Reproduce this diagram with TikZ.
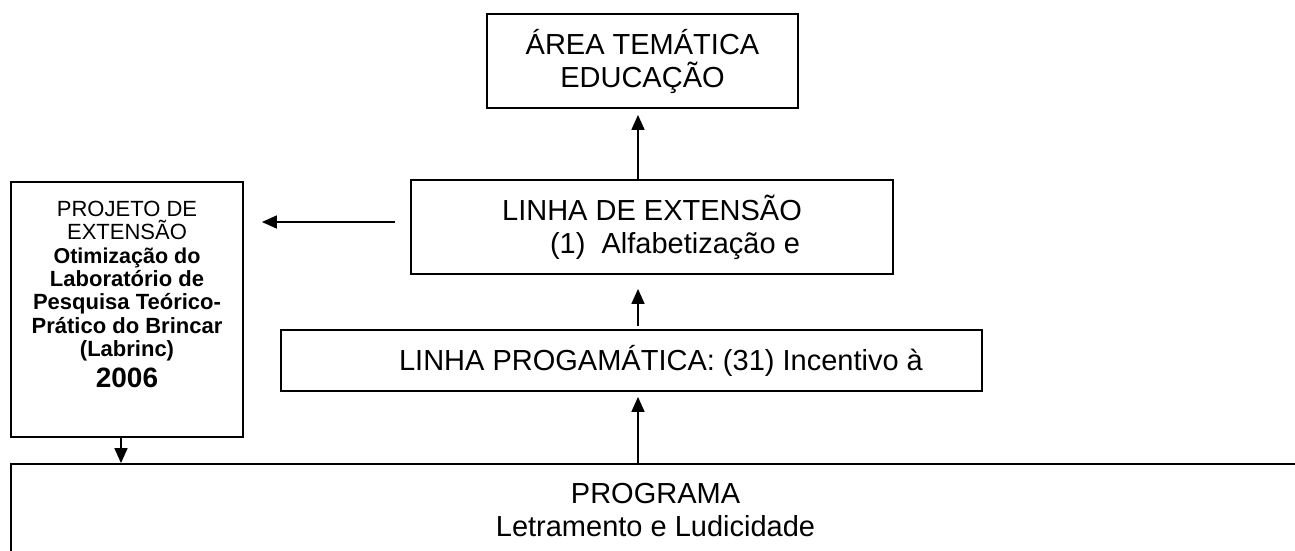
\documentclass[tikz,border=0pt]{standalone}
\usepackage{fontspec}
\setmainfont{Liberation Sans}
\usetikzlibrary{arrows.meta}

\tikzset{
  caixa/.style={draw, line width=1.8pt, rectangle, inner sep=0pt, align=center,
    font=\fontsize{29}{33}\selectfont},
  seta/.style={line width=1.6pt, -{Triangle[length=15pt,width=13pt]}}
}

\begin{document}
\begin{tikzpicture}[x=1pt,y=-1pt]
\clip (0,0) rectangle (1295,550);

\node[caixa, minimum width=311, minimum height=94] (area) at (642.5,61) {ÁREA TEMÁTICA\\EDUCAÇÃO};
\node[caixa, minimum width=482, minimum height=94] (ext) at (652,227) {LINHA DE EXTENSÃO\\\hspace*{46pt}(1)\ \ Alfabetização e};
\node[caixa, minimum width=701, minimum height=61] (linha) at (631.5,360.5) {\hspace*{59pt}LINHA PROGAMÁTICA: (31) Incentivo à};
\node[caixa, minimum width=1289, minimum height=92] (programa) at (655.5,510) {PROGRAMA\\Letramento e Ludicidade};

\node[caixa, minimum width=232, minimum height=255] (proj) at (127,309.5) {};
\node[anchor=north, align=center, inner sep=0pt, font=\fontsize{22}{23.3}\selectfont] (projtxt) at ([yshift=-20pt]proj.north)
  {PROJETO DE\\EXTENSÃO\\\fontsize{21.5}{23.3}\selectfont\textbf{Otimização do}\\\textbf{Laboratório de}\\\textbf{Pesquisa Teórico-}\\\textbf{Prático do Brincar}\\\textbf{(Labrinc)}\\[6pt]{\fontsize{28}{30}\selectfont\textbf{2006}}};

\coordinate (eixo) at (638,0);
\coordinate (eixop) at (121,0);

\draw[seta, shorten >=6pt] (ext.north -| eixo) -- (area.south -| eixo);
\draw[seta, shorten <=3pt, shorten >=14pt] (linha.north -| eixo) -- (ext.south -| eixo);
\draw[seta, shorten >=5pt] (programa.north -| eixo) -- (linha.south -| eixo);
\draw[seta, shorten <=15pt, shorten >=18pt] (ext.west) ++(0,-5) coordinate (e1) (e1) -- (e1 -| proj.east);
\draw[seta] (proj.south -| eixop) -- (programa.north -| eixop);

\end{tikzpicture}
\end{document}
